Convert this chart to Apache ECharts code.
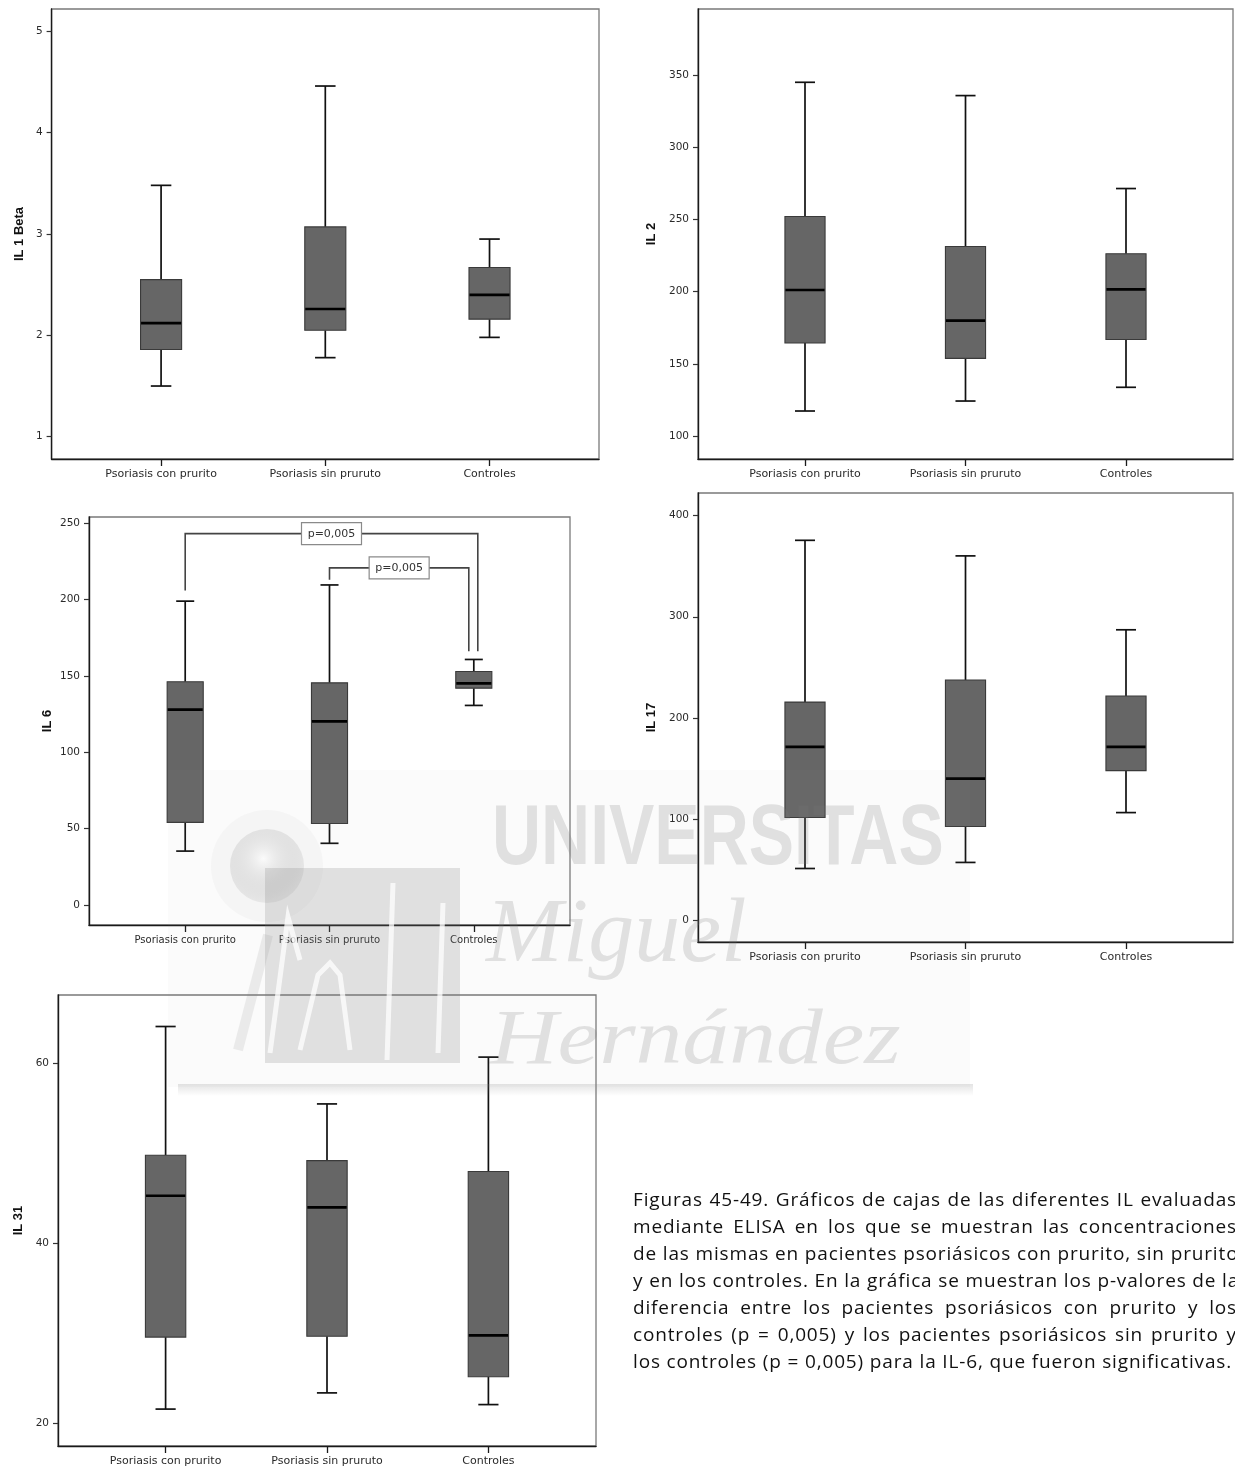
<!DOCTYPE html>
<html>
<head>
<meta charset="utf-8">
<title>Interleucinas - gráficos de cajas</title>
<script src="https://cdn.jsdelivr.net/npm/echarts@6/dist/echarts.min.js"></script>
<style>
  html, body { margin: 0; padding: 0; background: #fff; overflow: hidden; }
  #chart { position: absolute; left: 0; top: 0; width: 1235px; height: 1468px; }
  #caption {
    position: absolute; left: 633px; top: 1186px; width: 604px;
    font-family: "Open Sans", "Noto Sans", "Liberation Sans", sans-serif;
    font-size: 19px; letter-spacing: 0.85px; line-height: 27px; color: #111;
  }
  #caption div { text-align: justify; text-align-last: justify; white-space: nowrap; }
  #caption div.last { text-align-last: left; }
</style>
</head>
<body>
<div id="chart"></div>
<div id="caption"></div>
<script>
// Groups on the horizontal axis
const categories = ['Psoriasis con prurito', 'Psoriasis sin pruruto', 'Controles'];

// Box statistics per group: [min, Q1, median, Q3, max]
const il1Beta = [
  [1.50, 1.86, 2.12, 2.55, 3.48],
  [1.78, 2.05, 2.26, 3.07, 4.46],
  [1.98, 2.16, 2.40, 2.67, 2.95]
];
const il2 = [
  [117.5, 164.5, 201.2, 252.1, 344.9],
  [124.4, 153.9, 180.0, 231.3, 335.7],
  [133.9, 167.0, 201.6, 226.3, 271.4]
];
const il6 = [
  [35.3, 54.1, 128.0, 146.2, 199.0],
  [40.4, 53.4, 120.2, 145.5, 209.6],
  [130.7, 142.0, 145.1, 152.9, 160.8]
];
const il17 = [
  [51.0, 101.4, 171.2, 215.6, 375.6],
  [57.0, 92.5, 139.9, 237.4, 360.2],
  [106.3, 147.8, 171.2, 221.6, 287.1]
];
const il31 = [
  [21.6, 29.6, 45.3, 49.8, 64.1],
  [23.4, 29.7, 44.0, 49.2, 55.5],
  [22.1, 25.2, 29.8, 48.0, 60.7]
];

// Tick labels of each vertical axis
const il1BetaTicks = [1, 2, 3, 4, 5];
const il2Ticks = [100, 150, 200, 250, 300, 350];
const il6Ticks = [0, 50, 100, 150, 200, 250];
const il17Ticks = [0, 100, 200, 300, 400];
const il31Ticks = [20, 40, 60];

// Significant differences for IL 6: [fromGroup, toGroup, bracketLevel, fromLegEnd, toLegEnd]
const il6Comparisons = [
  [0, 2, 243.2, 206.0, 166.2],
  [1, 2, 220.8, 213.0, 166.2]
];
const il6PValues = ['p=0,005', 'p=0,005'];

const captionLines = [
  'Figuras 45-49. Gráficos de cajas de las diferentes IL evaluadas',
  'mediante ELISA en los que se muestran las concentraciones',
  'de las mismas en pacientes psoriásicos con prurito, sin prurito',
  'y en los controles. En la gráfica se muestran los p-valores de la',
  'diferencia entre los pacientes psoriásicos con prurito y los',
  'controles (p = 0,005) y los pacientes psoriásicos sin prurito y',
  'los controles (p = 0,005) para la IL-6, que fueron significativas.'
];

// ---- caption ----
const cap = document.getElementById('caption');
captionLines.forEach(function (t, i) {
  const d = document.createElement('div');
  d.textContent = t;
  if (i === captionLines.length - 1) d.className = 'last';
  cap.appendChild(d);
});

// ---- panel layout ----
const panels = [
  { name: 'IL 1 Beta', stats: il1Beta, ticks: il1BetaTicks, yMin: 0.78, yMax: 5.22,
    grid: { left: 51.6, top: 9, width: 547.4, height: 450 }, nameGap: 26, catFont: 11 },
  { name: 'IL 2', stats: il2, ticks: il2Ticks, yMin: 84.3, yMax: 395.6,
    grid: { left: 698, top: 9, width: 535, height: 450 }, nameGap: 40, catFont: 11 },
  { name: 'IL 6', stats: il6, ticks: il6Ticks, yMin: -13.1, yMax: 254.1,
    grid: { left: 89, top: 517, width: 481, height: 408 }, nameGap: 35, catFont: 10 },
  { name: 'IL 17', stats: il17, ticks: il17Ticks, yMin: -21.7, yMax: 422.4,
    grid: { left: 698, top: 493, width: 535, height: 449 }, nameGap: 40, catFont: 11 },
  { name: 'IL 31', stats: il31, ticks: il31Ticks, yMin: 17.5, yMax: 67.6,
    grid: { left: 58, top: 995, width: 538, height: 451 }, nameGap: 33, catFont: 11 }
];

const AXIS_FONT = '"DejaVu Sans", Verdana, sans-serif';
const BOX_WIDTH = 0.25; // in group units

function renderBox(params, api) {
  const g = api.value(0);
  const lo = api.coord([g, api.value(1)]);
  const q1 = api.coord([g, api.value(2)]);
  const md = api.coord([g, api.value(3)]);
  const q3 = api.coord([g, api.value(4)]);
  const hi = api.coord([g, api.value(5)]);
  const w = api.size([BOX_WIDTH, 0])[0];
  const cx = lo[0];
  const capHalf = w / 4;
  const whisker = { stroke: '#111', lineWidth: 1.7 };
  return {
    type: 'group',
    children: [
      { type: 'line', shape: { x1: cx, y1: hi[1], x2: cx, y2: q3[1] }, style: whisker },
      { type: 'line', shape: { x1: cx, y1: q1[1], x2: cx, y2: lo[1] }, style: whisker },
      { type: 'line', shape: { x1: cx - capHalf, y1: hi[1], x2: cx + capHalf, y2: hi[1] }, style: whisker },
      { type: 'line', shape: { x1: cx - capHalf, y1: lo[1], x2: cx + capHalf, y2: lo[1] }, style: whisker },
      { type: 'rect', shape: { x: cx - w / 2, y: q3[1], width: w, height: q1[1] - q3[1] },
        style: { fill: '#666666', stroke: '#3a3a3a', lineWidth: 1.1 } },
      { type: 'line', shape: { x1: cx - w / 2 + 0.5, y1: md[1], x2: cx + w / 2 - 0.5, y2: md[1] },
        style: { stroke: '#000', lineWidth: 2.7 } }
    ]
  };
}

function renderBracket(params, api) {
  const from = api.value(0), to = api.value(1);
  const legStart = api.coord([from, api.value(3)]);
  const top = api.coord([from, api.value(2)]);
  const toPt = api.coord([to, api.value(2)]);
  const toEnd = api.coord([to, api.value(4)]);
  const dx = params.dataIndex === 0 ? 4 : -5;
  const xr = toPt[0] + dx;
  const midX = (top[0] + xr) / 2;
  const bw = 60, bh = 22;
  return {
    type: 'group',
    children: [
      { type: 'polyline', shape: { points: [[legStart[0], legStart[1]], [top[0], top[1]], [xr, top[1]], [xr, toEnd[1]]] },
        style: { stroke: '#444', lineWidth: 1.6, fill: null } },
      { type: 'rect', shape: { x: midX - bw / 2, y: top[1] - bh / 2, width: bw, height: bh },
        style: { fill: '#fff', stroke: '#8a8a8a', lineWidth: 1.2 } },
      { type: 'text', x: midX, y: top[1],
        style: { text: il6PValues[params.dataIndex], font: '11px ' + AXIS_FONT, fill: '#333',
                 textAlign: 'center', textVerticalAlign: 'middle' } }
    ]
  };
}

const option = {
  animation: false,
  backgroundColor: '#fff',
  grid: [], xAxis: [], yAxis: [], series: [],
  graphic: []
};

panels.forEach(function (p, i) {
  option.grid.push(Object.assign({ show: true, borderColor: '#7a7a7a', borderWidth: 1.3,
    backgroundColor: 'transparent', containLabel: false }, p.grid));
  option.xAxis.push({
    type: 'value', gridIndex: i, min: -2 / 3, max: 8 / 3,
    axisLine: { show: true, onZero: false, lineStyle: { color: '#1a1a1a', width: 1.4 } },
    axisTick: { show: true, length: 7, customValues: [0, 1, 2], lineStyle: { color: '#1a1a1a', width: 1.3 } },
    axisLabel: { customValues: [0, 1, 2], margin: 10, color: '#2a2a2a', fontFamily: AXIS_FONT,
      fontSize: p.catFont, formatter: function (v) { return categories[Math.round(v)]; } },
    splitLine: { show: false }
  });
  option.yAxis.push({
    type: 'value', gridIndex: i, min: p.yMin, max: p.yMax,
    name: p.name, nameLocation: 'middle', nameRotate: 90, nameGap: p.nameGap,
    nameTextStyle: { fontFamily: '"Liberation Sans", Arial, sans-serif', fontWeight: 'bold', fontSize: 13, color: '#111' },
    axisLine: { show: true, onZero: false, lineStyle: { color: '#1a1a1a', width: 1.4 } },
    axisTick: { show: true, length: 5, customValues: p.ticks, lineStyle: { color: '#333', width: 1.2 } },
    axisLabel: { customValues: p.ticks, margin: 9, color: '#2a2a2a', fontFamily: AXIS_FONT, fontSize: 10.5 },
    splitLine: { show: false }
  });
  option.series.push({
    type: 'custom', name: p.name, xAxisIndex: i, yAxisIndex: i, clip: false,
    renderItem: renderBox,
    encode: { x: 0, y: [1, 2, 3, 4, 5] },
    data: p.stats.map(function (s, g) { return [g].concat(s); })
  });
});

// Significance brackets on the IL 6 panel
option.series.push({
  type: 'custom', name: 'IL 6 p', xAxisIndex: 2, yAxisIndex: 2, clip: false, z: 5,
  renderItem: renderBracket,
  encode: { x: [0, 1], y: [2, 3, 4] },
  data: il6Comparisons
});

// University watermark laid over the figure
const wmInk = 'rgba(120,120,120,0.2)';
const wmWhite = 'rgba(255,255,255,0.75)';
option.graphic = [
  // faint backdrop and its bottom shadow
  { type: 'rect', z: 100, silent: true, shape: { x: 168, y: 770, width: 802, height: 317 },
    style: { fill: 'rgba(150,150,150,0.04)' } },
  { type: 'rect', z: 100, silent: true, shape: { x: 178, y: 1084, width: 795, height: 12 },
    style: { fill: new echarts.graphic.LinearGradient(0, 0, 0, 1, [
      { offset: 0, color: 'rgba(130,130,130,0.22)' }, { offset: 1, color: 'rgba(130,130,130,0)' }]) } },
  // logo: sphere
  { type: 'circle', z: 100, silent: true, shape: { cx: 267, cy: 866, r: 56 },
    style: { fill: 'rgba(140,140,140,0.05)' } },
  { type: 'circle', z: 100, silent: true, shape: { cx: 267, cy: 866, r: 37 },
    style: { fill: new echarts.graphic.RadialGradient(0.45, 0.4, 0.65, [
      { offset: 0, color: 'rgba(255,255,255,0.6)' }, { offset: 1, color: 'rgba(130,130,130,0.09)' }]) } },
  // logo: block with the script strokes
  { type: 'rect', z: 100, silent: true, shape: { x: 265, y: 868, width: 195, height: 195 },
    style: { fill: wmInk } },
  { type: 'line', z: 100, silent: true, shape: { x1: 238, y1: 1050, x2: 268, y2: 935 },
    style: { stroke: 'rgba(120,120,120,0.13)', lineWidth: 10 } },
  { type: 'polyline', z: 101, silent: true,
    shape: { points: [[270, 1053], [288, 917], [300, 960]] },
    style: { stroke: wmWhite, lineWidth: 5, fill: null } },
  { type: 'polyline', z: 101, silent: true,
    shape: { points: [[300, 1050], [318, 975], [330, 963], [340, 975], [350, 1050]] },
    style: { stroke: wmWhite, lineWidth: 5, fill: null } },
  { type: 'line', z: 101, silent: true, shape: { x1: 393, y1: 883, x2: 387, y2: 1060 },
    style: { stroke: wmWhite, lineWidth: 5 } },
  { type: 'line', z: 101, silent: true, shape: { x1: 443, y1: 903, x2: 438, y2: 1053 },
    style: { stroke: wmWhite, lineWidth: 5 } },
  // lettering
  { type: 'text', z: 101, silent: true, x: 492, y: 883, scaleX: 0.79,
    style: { text: 'UNIVERSITAS', font: 'bold 86px "Liberation Sans", sans-serif',
             fill: wmInk, textAlign: 'left', textVerticalAlign: 'bottom' } },
  { type: 'text', z: 101, silent: true, x: 486, y: 983,
    style: { text: 'Miguel', font: 'italic 92px "Liberation Serif", serif', fill: wmInk,
             textAlign: 'left', textVerticalAlign: 'bottom' } },
  { type: 'text', z: 101, silent: true, x: 490, y: 1081, scaleX: 1.2,
    style: { text: 'Hernández', font: 'italic 78px "Liberation Serif", serif', fill: wmInk,
             textAlign: 'left', textVerticalAlign: 'bottom' } }
];

const chart = echarts.init(document.getElementById('chart'), null, { renderer: 'canvas', width: 1235, height: 1468 });
chart.setOption(option);
</script>
</body>
</html>
